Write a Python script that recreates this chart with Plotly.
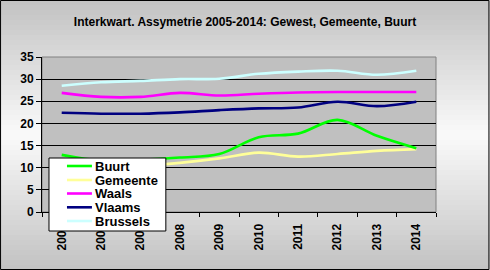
import plotly.graph_objects as go

years = ["2005", "2006", "2007", "2008", "2009", "2010", "2011", "2012", "2013", "2014"]
buurt = [12.9, 11.6, 11.8, 12.3, 13.1, 16.9, 17.7, 20.8, 17.2, 14.4]
gemeente = [10.0, 10.0, 10.4, 11.1, 12.1, 13.4, 12.5, 13.1, 13.8, 14.2]
waals = [26.9, 26.0, 26.0, 26.9, 26.3, 26.7, 27.0, 27.1, 27.1, 27.1]
vlaams = [22.4, 22.2, 22.2, 22.5, 23.0, 23.4, 23.6, 24.9, 23.9, 24.9]
brussels = [28.5, 29.3, 29.6, 30.0, 30.1, 31.2, 31.7, 31.9, 31.0, 31.9]

series_names = ["Buurt", "Gemeente", "Waals", "Vlaams", "Brussels"]
series_values = [buurt, gemeente, waals, vlaams, brussels]
series_colors = ["#00FF00", "#FFFF99", "#FF00FF", "#000080", "#CCFFFF"]

W, H = 490, 270
ML, MR, MT, MB = 42, 53.5, 57, 58
PW = W - ML - MR
PH = H - MT - MB

def px_x(p):
    return (p - ML) / PW

def px_y(p):
    return (H - MB - p) / PH

FONT = "Liberation Sans"

fig = go.Figure()
for name, vals, col in reversed(list(zip(series_names, series_values, series_colors))):
    fig.add_trace(go.Scatter(
        x=years, y=vals, name=name, mode="lines",
        line=dict(color=col, width=2.6, shape="spline"),
        showlegend=False, hoverinfo="x+y+name",
    ))

shapes = []
N = 54
for i in range(N):
    y0p = i * H / N
    y1p = (i + 1) * H / N + 0.6
    t = (i + 0.5) / N
    d = abs(t - 0.5) / 0.5
    c = int(round(250 - (250 - 194) * d))
    shapes.append(dict(type="rect", xref="paper", yref="paper",
                       x0=px_x(0), x1=px_x(W), y0=px_y(y1p), y1=px_y(y0p),
                       fillcolor=f"rgb({c},{c},{c})", line=dict(width=0), layer="below"))
shapes.append(dict(type="rect", xref="x domain", yref="y domain", x0=0, x1=1, y0=0, y1=1,
                   fillcolor="#C0C0C0", line=dict(color="#808080", width=1), layer="below"))
shapes.append(dict(type="rect", xref="paper", yref="paper",
                   x0=px_x(0.5), x1=px_x(W - 0.5), y0=px_y(H - 0.5), y1=px_y(0.5),
                   fillcolor="rgba(0,0,0,0)", line=dict(color="black", width=1), layer="above"))
LX0, LX1, LY0, LY1 = 49, 166, 158, 231
shapes.append(dict(type="rect", xref="paper", yref="paper",
                   x0=px_x(LX0), x1=px_x(LX1), y0=px_y(LY1), y1=px_y(LY0),
                   fillcolor="white", line=dict(color="black", width=1), layer="above"))
annotations = []
row_y = [166, 180, 193.5, 207.3, 221]
for name, col, ry in zip(series_names, series_colors, row_y):
    shapes.append(dict(type="line", xref="paper", yref="paper",
                       x0=px_x(67), x1=px_x(92), y0=px_y(ry), y1=px_y(ry),
                       line=dict(color=col, width=2.6), layer="above"))
    annotations.append(dict(text=name, xref="paper", yref="paper", x=px_x(93), y=px_y(ry),
                            xanchor="left", yanchor="middle", showarrow=False,
                            font=dict(family=FONT, size=13, color="black", weight="bold")))

fig.update_layout(
    width=W, height=H,
    margin=dict(l=ML, r=MR, t=MT, b=MB, pad=0, autoexpand=False),
    paper_bgcolor="#D8D8D8", plot_bgcolor="#C0C0C0",
    title=dict(text="Interkwart. Assymetrie 2005-2014: Gewest, Gemeente, Buurt",
               x=0.5, xanchor="center", xref="container",
               y=1 - 22 / H, yanchor="middle", yref="container",
               font=dict(family=FONT, size=12, color="black", weight="bold")),
    shapes=shapes, annotations=annotations,
    showlegend=False,
    xaxis=dict(type="category", range=[-0.5, 9.5], showgrid=False, zeroline=False,
               showline=True, linecolor="black", linewidth=1,
               ticks="outside", tickson="boundaries", ticklen=4, tickcolor="black",
               tickangle=-90, ticklabelstandoff=6, automargin=False,
               tickfont=dict(family=FONT, size=12, color="black", weight="bold")),
    yaxis=dict(range=[0, 35], dtick=5, tick0=0, showgrid=True, gridcolor="black", gridwidth=1,
               zeroline=False, showline=True, linecolor="black", linewidth=1,
               ticks="outside", ticklen=5, tickcolor="black", automargin=False,
               tickfont=dict(family=FONT, size=12, color="black", weight="bold")),
)

fig.write_html("out.html", config={"displayModeBar": False},
               post_script="document.body.style.margin='0';document.body.style.padding='0';")
